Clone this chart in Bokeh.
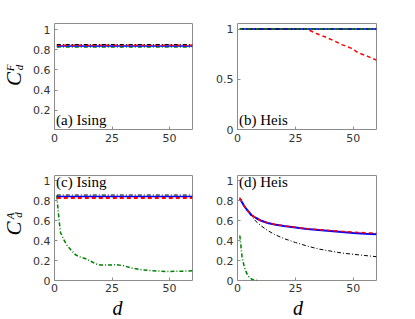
import math
from bokeh.plotting import figure
from bokeh.layouts import row, column
from bokeh.models import Label, FixedTicker, PrintfTickFormatter, Range1d
from bokeh.embed import file_html
from bokeh.resources import INLINE

# ---------------- data ----------------
d_const = [1, 60]

# (a) Ising, C_d^F
a_black = [0.852, 0.852]
a_red = [0.845, 0.845]
a_blue = [0.838, 0.838]
a_green = [0.826, 0.826]

# (b) Heis, C_d^F
b_black = [1.0, 1.0]
b_blue = [1.0, 1.0]
b_green = [1.0, 1.0]
b_red_d = [1, 30, 34, 38, 42, 45, 49, 52, 56, 60]
b_red = [1.0, 1.0, 0.955, 0.92, 0.88, 0.845, 0.81, 0.765, 0.73, 0.69]

# (c) Ising, C_d^A
c_black = [0.855, 0.855]
c_blue = [0.84, 0.84]
c_red = [0.825, 0.825]
c_green_d = [1, 1.5, 2, 2.6, 4, 5.5, 7, 9, 10.5, 12.6, 14, 16, 18, 20, 24, 27, 30, 34, 38, 41, 45, 49, 54, 60]
c_green = [0.85, 0.72, 0.6, 0.48, 0.41, 0.35, 0.31, 0.26, 0.24, 0.225, 0.215, 0.19, 0.165, 0.155,
           0.155, 0.157, 0.148, 0.122, 0.108, 0.1, 0.095, 0.09, 0.092, 0.097]

# (d) Heis, C_d^A
d_rb_d = [1, 2, 3, 4, 6, 8, 10, 13, 16, 20, 25, 30, 35, 40, 45, 50, 55, 60]
d_blue = [0.82, 0.78, 0.74, 0.71, 0.655, 0.625, 0.60, 0.575, 0.56, 0.545, 0.53, 0.515, 0.505,
          0.495, 0.485, 0.476, 0.468, 0.462]
d_red = [0.82, 0.78, 0.74, 0.71, 0.655, 0.625, 0.60, 0.577, 0.562, 0.547, 0.533, 0.518, 0.508,
         0.499, 0.491, 0.484, 0.478, 0.472]
d_black_d = [1, 2, 4, 6, 8, 10, 13, 16, 20, 25, 30, 35, 40, 45, 50, 55, 60]
d_black = [0.83, 0.79, 0.71, 0.645, 0.59, 0.55, 0.50, 0.46, 0.42, 0.38, 0.345, 0.315, 0.295,
           0.275, 0.262, 0.25, 0.238]
d_green_d = [1, 2, 3, 4, 5, 6, 7, 8, 9]
d_green = [0.45, 0.23, 0.13, 0.07, 0.035, 0.015, 0.006, 0.002, 0.0]

x_ticks = [0, 25, 50]
y_ticks_a = [0.2, 0.4, 0.6, 0.8, 1]
y_ticks_b = [0, 0.5, 1]
y_ticks_c = [0, 0.2, 0.4, 0.6, 0.8, 1]

RED, BLUE, BLACK, GREEN = "#ff0000", "#0000ff", "#000000", "#008000"
GRAY = "#8c8c8c"
TICKCOL = "#333333"


def make_fig(w, h, bl, br, bt, bb, yr, yticks, xstand=4):
    p = figure(width=w, height=h, x_range=Range1d(0, 60), y_range=Range1d(*yr),
               output_backend="svg", toolbar_location=None, title=None,
               min_border_left=bl, min_border_right=br, min_border_top=bt, min_border_bottom=bb)
    p.grid.visible = False
    p.outline_line_color = GRAY
    p.outline_line_width = 1
    p.background_fill_color = "white"
    p.border_fill_color = "white"
    for ax, ticks, st in ((p.xaxis, x_ticks, xstand), (p.yaxis, yticks, 4)):
        ax.ticker = FixedTicker(ticks=ticks)
        ax.formatter = PrintfTickFormatter(format="%g")
        ax.axis_line_color = None
        ax.major_tick_in = 3
        ax.major_tick_out = 0
        ax.major_tick_line_color = GRAY
        ax.minor_tick_line_color = None
        ax.major_label_text_font = "DejaVu Sans"
        ax.major_label_text_font_size = "11px"
        ax.major_label_text_color = TICKCOL
        ax.major_label_standoff = st
    return p


def make_strip(w, h):
    p = figure(width=w, height=h, x_range=Range1d(0, w), y_range=Range1d(0, h),
               output_backend="svg", toolbar_location=None, min_border=0, title=None,
               x_axis_location=None, y_axis_location=None)
    p.grid.visible = False
    p.outline_line_color = None
    p.background_fill_color = "white"
    p.border_fill_color = "white"
    return p


# page geometry of each frame: left, top, width, height, yrange
GA = (54, 23, 138, 106, (0.01, 1.06))
GB = (237, 23, 139, 106, (0.0, 1.055))
GC = (54, 175, 138, 105, (0.0, 1.05))
GD = (237, 175, 139, 105, (0.0, 1.05))


def px2data(g, px, py):
    fl, ft, fw, fh, (y0, y1) = g
    return (px - fl) / fw * 60.0, y1 - (py - ft) / fh * (y1 - y0)


def add_text(p, x, y, text, size, style="normal", angle=0.0, align="left",
             baseline="middle", font="Liberation Serif"):
    p.add_layout(Label(x=x, y=y, text=text, text_font=font, text_font_size=size,
                       text_font_style=style, angle=angle, text_align=align,
                       text_baseline=baseline, text_color="#000000"))


def add_panel_text(p, g, px, py, text):
    x, y = px2data(g, px, py)
    add_text(p, x, y, text, "15px")


# strips for axis titles: left strip x 0..26, y 0..296; bottom strip y 296..319
SL_W, SL_H = 26, 296
sL = make_strip(SL_W, SL_H)
sB = make_strip(407, 23)

pa = make_fig(187, 152, 28, 21, 23, 23, GA[4], y_ticks_a)
pb = make_fig(194, 152, 24, 31, 23, 23, GB[4], y_ticks_b)
pc = make_fig(187, 144, 28, 21, 23, 16, GC[4], y_ticks_c, xstand=3)
pd = make_fig(194, 144, 24, 31, 23, 16, GD[4], y_ticks_c, xstand=3)

DASH = "4 3"
DASHDOT = "4 2 1 2"

# (a)
pa.line(d_const, a_green, line_color=GREEN, line_width=1.5, line_dash=DASHDOT)
pa.line(d_const, a_blue, line_color=BLUE, line_width=1.5)
pa.line(d_const, a_red, line_color=RED, line_width=1.5, line_dash=DASH)
pa.line(d_const, a_black, line_color=BLACK, line_width=1, line_dash=DASHDOT)

# (b)
pb.line(b_red_d, b_red, line_color=RED, line_width=1.5, line_dash=DASH)
pb.line(d_const, b_blue, line_color=BLUE, line_width=1.5)
pb.line(d_const, b_black, line_color=BLACK, line_width=1, line_dash=DASHDOT)
pb.line(d_const, b_green, line_color=GREEN, line_width=1.5, line_dash="3 5")

# (c)
pc.line(c_green_d, c_green, line_color=GREEN, line_width=1.5, line_dash=DASHDOT)
pc.line(d_const, c_blue, line_color=BLUE, line_width=1.5)
pc.line(d_const, c_red, line_color=RED, line_width=2, line_dash=DASH)
pc.line(d_const, c_black, line_color=BLACK, line_width=1, line_dash=DASHDOT)

# (d)
pd.line(d_green_d, d_green, line_color=GREEN, line_width=1.5, line_dash=DASHDOT)
pd.line(d_black_d, d_black, line_color=BLACK, line_width=1, line_dash=DASHDOT)
pd.line(d_rb_d, d_blue, line_color=BLUE, line_width=2)
pd.line(d_rb_d, d_red, line_color=RED, line_width=1.5, line_dash=DASH)

# panel labels
add_panel_text(pa, GA, 55.5, 119.5, "(a) Ising")
add_panel_text(pb, GB, 238.5, 119.5, "(b) Heis")
add_panel_text(pc, GC, 55.5, 181.5, "(c) Ising")
add_panel_text(pd, GD, 238.5, 181.5, "(d) Heis")

# y-axis titles C_d^F and C_d^A (rotated); strip data y = SL_H - page y
R = math.pi / 2
add_text(sL, 13.5, SL_H - 78.5, "C", "21px", "italic", R, "center", "middle")
add_text(sL, 9.5, SL_H - 67.5, "F", "11px", "italic", R, "center", "middle")
add_text(sL, 18, SL_H - 67, "d", "11px", "italic", R, "center", "middle")
add_text(sL, 13.5, SL_H - 228, "C", "21px", "italic", R, "center", "middle")
add_text(sL, 9, SL_H - 215.5, "A", "11px", "italic", R, "center", "middle")
add_text(sL, 17.5, SL_H - 214.5, "d", "11px", "italic", R, "center", "middle")

# x-axis titles (text box centred at page y 307.5)
add_text(sB, 117, 319 - 307.5, "d", "20px", "italic", 0.0, "center", "middle")
add_text(sB, 297.5, 319 - 307.5, "d", "20px", "italic", 0.0, "center", "middle")

layout = column(row(sL, column(row(pa, pb), row(pc, pd))), sB)
open("out.html", "w").write(file_html(layout, INLINE))
